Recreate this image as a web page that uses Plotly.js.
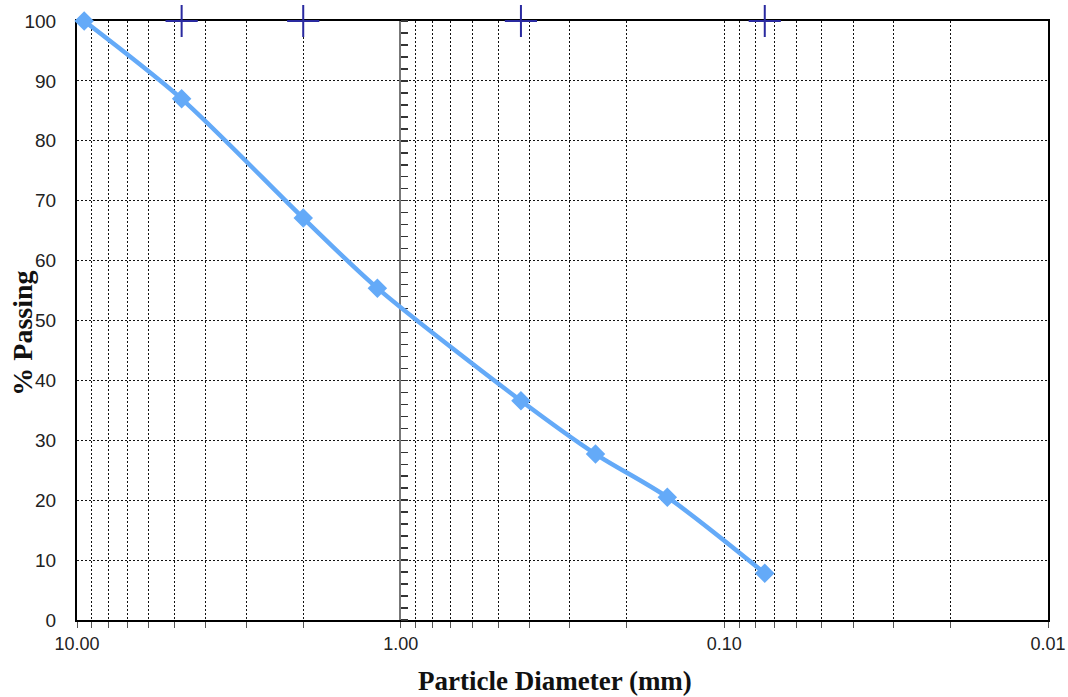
<!DOCTYPE html>
<html>
<head>
<meta charset="utf-8">
<script src="https://cdn.plot.ly/plotly-3.0.1.min.js"></script>
<style>html,body{margin:0;padding:0;background:#fff;}#chart{width:1068px;height:697px;}</style>
</head>
<body>
<div id="chart"></div>
<script>
// Data
const diameters = [9.5, 4.75, 2.0, 1.18, 0.425, 0.25, 0.15, 0.075];
const passing   = [100, 87.0, 67.1, 55.4, 36.6, 27.7, 20.5, 7.8];
const sieveMarks = [4.75, 2.0, 0.425, 0.075];
const sieveMarkLevel = [100, 100, 100, 100];

// Axis ticks
const xTickVals = [10, 9, 8, 7, 6, 5, 4, 3, 2, 1, 0.9, 0.8, 0.7, 0.6, 0.5, 0.4, 0.3, 0.2, 0.1, 0.09, 0.08, 0.07, 0.06, 0.05, 0.04, 0.03, 0.02, 0.01];
const xTickText = ["10.00", "", "", "", "", "", "", "", "", "1.00", "", "", "", "", "", "", "", "", "0.10", "", "", "", "", "", "", "", "", "0.01"];
const yTickVals = [0, 10, 20, 30, 40, 50, 60, 70, 80, 90, 100];

const traces = [
  {
    x: sieveMarks, y: sieveMarkLevel, type: 'scatter', mode: 'markers', yaxis: 'y',
    marker: {symbol: 'cross-thin-open', size: 23, color: '#2a2aa0', line: {color: '#2a2aa0', width: 2}},
    cliponaxis: false, hoverinfo: 'x'
  },
  {
    x: diameters, y: passing, type: 'scatter', mode: 'lines+markers', yaxis: 'y2',
    line: {color: '#64aaf8', width: 4.5, shape: 'spline', smoothing: 0.8},
    marker: {symbol: 'diamond', size: 15, color: '#64aaf8'},
    cliponaxis: false, hoverinfo: 'x+y'
  }
];

const gridDash = '2px,2px';
const layout = {
  width: 1068, height: 697,
  margin: {l: 77, r: 20, t: 21, b: 77},
  paper_bgcolor: '#fff', plot_bgcolor: '#fff',
  showlegend: false,
  font: {family: 'Liberation Sans, Arial, sans-serif', color: '#222'},
  xaxis: {
    type: 'log', range: [1, -2],
    tickmode: 'array', tickvals: xTickVals, ticktext: xTickText,
    ticks: 'outside', ticklen: 6, tickwidth: 1, tickcolor: '#555',
    tickfont: {size: 18, color: '#222'},
    ticklabelstandoff: 0,
    showgrid: true, gridcolor: '#111', gridwidth: 1, griddash: gridDash,
    showline: true, linecolor: '#000', linewidth: 2, mirror: true,
    zeroline: false, layer: 'below traces'
  },
  yaxis: {
    range: [0, 100], tickmode: 'array', tickvals: yTickVals,
    ticks: '', tickfont: {size: 19, color: '#222'},
    ticklabelstandoff: 15,
    showgrid: true, gridcolor: '#111', gridwidth: 1, griddash: gridDash,
    showline: true, linecolor: '#000', linewidth: 2, mirror: true,
    zeroline: false, layer: 'below traces'
  },
  yaxis2: {
    range: [0, 100], overlaying: 'y', anchor: 'free', side: 'right',
    position: 0.3326, dtick: 2, tick0: 0, ticks: 'outside', ticklen: 7, tickwidth: 1.5,
    tickcolor: '#333', showticklabels: false, showgrid: false, zeroline: false,
    showline: true, linecolor: '#777', linewidth: 2, layer: 'below traces'
  },
  annotations: [
    {text: '<b>Particle Diameter (mm)</b>', xref: 'paper', yref: 'paper', x: 0.492, y: -0.102,
     yanchor: 'middle', xanchor: 'center', showarrow: false,
     font: {family: 'Liberation Serif, Times New Roman, serif', size: 27, color: '#111'}},
    {text: '<b>% Passing</b>', xref: 'paper', yref: 'paper', x: -0.0556, y: 0.478,
     xanchor: 'center', yanchor: 'middle', textangle: -90, showarrow: false,
     font: {family: 'Liberation Serif, Times New Roman, serif', size: 28, color: '#111'}}
  ]
};

Plotly.newPlot('chart', traces, layout, {displayModeBar: false, staticPlot: true});
</script>
</body>
</html>
